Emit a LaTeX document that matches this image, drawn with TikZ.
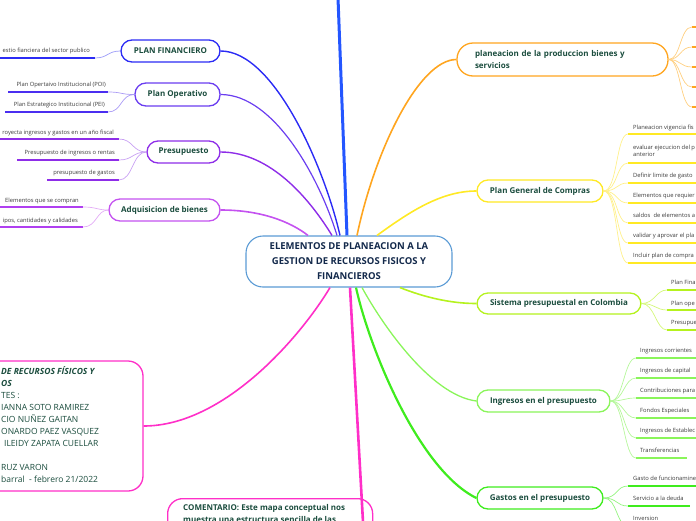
\documentclass[tikz,border=0pt]{standalone}
\usepackage{fontspec}
\setmainfont{Open Sans}
\usepackage{tikz}
\usetikzlibrary{calc}
\definecolor{titletext}{HTML}{1B4D3E}
\definecolor{centertext}{HTML}{13294B}
\definecolor{leaftext}{HTML}{3A3A3A}
\definecolor{centerblue}{HTML}{5B9BD5}
\definecolor{topblue}{HTML}{2456FF}
\definecolor{finblue}{HTML}{2B2BF5}
\definecolor{finlight}{HTML}{9A9AF8}
\definecolor{opviolet}{HTML}{6A3DF0}
\definecolor{opline}{HTML}{4B2EF0}
\definecolor{oplight}{HTML}{A99AF5}
\definecolor{prepurple}{HTML}{8E2DE8}
\definecolor{prelight}{HTML}{C8A0F3}
\definecolor{adqpurple}{HTML}{C452F0}
\definecolor{adqline}{HTML}{B040F0}
\definecolor{adqlight}{HTML}{E3ACF6}
\definecolor{magentab}{HTML}{FF2FC8}
\definecolor{orangeb}{HTML}{FFA51F}
\definecolor{orangelight}{HTML}{FFCF80}
\definecolor{yellowb}{HTML}{FFE924}
\definecolor{yellowlight}{HTML}{FFF08A}
\definecolor{limeb}{HTML}{B5F21E}
\definecolor{limelight}{HTML}{D4F77A}
\definecolor{ingreen}{HTML}{8AF55A}
\definecolor{inlight}{HTML}{B5F79A}
\definecolor{gasgreen}{HTML}{3FEC1E}
\definecolor{gaslight}{HTML}{94F47F}

\begin{document}
\begin{tikzpicture}[x=1pt, y=-1pt,
	topic/.style={draw, fill=white, line width=1.3pt, rounded corners=11pt, inner sep=0pt, text=titletext, font=\bfseries\fontsize{8}{10}\selectfont},
	leaf/.style={inner sep=0pt, text=leaftext, font=\fontsize{5.8}{7}\selectfont},
	branch/.style={line width=1.4pt},
	twig/.style={line width=0.7pt},
	uline/.style={line width=2pt}]
	
	\useasboundingbox (0,0) rectangle (696,520);
	
	% central topic
	\node[topic, draw=centerblue, line width=1.1pt, rounded corners=17pt, minimum width=206pt, minimum height=51pt, text=centertext, align=center, font=\bfseries\fontsize{9.5}{15}\selectfont] (central) at (349,261.5) {ELEMENTOS DE PLANEACION A LA\\GESTION DE RECURSOS FISICOS Y\\FINANCIEROS};
	\coordinate (topend) at (338,-2);
	\coordinate (botend) at (363,522);
	
	% left topics
	\node[topic, draw=finblue, minimum width=99pt, minimum height=22pt] (planfin) at (170.5,51) {PLAN FINANCIERO};
	\node[topic, draw=opviolet, minimum width=85pt, minimum height=23pt] (planop) at (177.5,94.5) {Plan Operativo};
	\node[topic, draw=prepurple, minimum width=73pt, minimum height=22pt] (presup) at (183.5,152) {Presupuesto};
	\node[topic, draw=adqpurple, minimum width=111pt, minimum height=22pt] (adquis) at (164.5,210) {Adquisicion de bienes};
	\node[topic, draw=magentab, rounded corners=15pt, minimum width=223pt, minimum height=130pt] (autores) at (31.5,426) {};
	\node[anchor=north west, align=left, inner sep=0pt, text=titletext, font=\fontsize{8.5}{12}\selectfont] (autorestxt) at (1,366) {{\bfseries\itshape DE RECURSOS FÍSICOS Y}\\{\bfseries\itshape OS}\\TES :\\IANNA SOTO RAMIREZ\\CIO NUÑEZ GAITAN\\ONARDO PAEZ VASQUEZ\\\hspace{3pt}ILEIDY ZAPATA CUELLAR\\\mbox{}\\RUZ VARON\\barral\ \ - febrero 21/2022};
	\node[topic, draw=magentab, rounded corners=15pt, anchor=north west, minimum width=205pt, minimum height=64pt] (comentario) at (167,498) {};
	\node[anchor=north west, align=left, inner sep=0pt, text=titletext, font=\bfseries\fontsize{8}{12.5}\selectfont] (comentariotxt) at (183,504) {COMENTARIO: Este mapa conceptual nos\\muestra una estructura sencilla de las};
	
	% right topics
	\node[topic, draw=orangeb, rounded corners=16pt, minimum width=211pt, minimum height=33pt, text width=175pt, inner xsep=18pt, align=left, font=\bfseries\fontsize{8}{12}\selectfont] (prodbien) at (562.5,59.5) {planeacion de la produccion bienes y\\servicios};
	\node[topic, draw=yellowb, minimum width=126pt, minimum height=22pt] (compras) at (540,191) {Plan General de Compras};
	\node[topic, draw=limeb, minimum width=164pt, minimum height=21pt] (sistema) at (559,303.5) {Sistema presupuestal en Colombia};
	\node[topic, draw=ingreen, minimum width=133pt, minimum height=22pt] (ingresos) at (543.5,401) {Ingresos en el presupuesto};
	\node[topic, draw=gasgreen, minimum width=126pt, minimum height=22pt] (gastos) at (540,498) {Gastos en el presupuesto};
	
	% branches from the central topic
	\draw[branch, topblue, line width=3pt] ($(central.north)+(-2,0)$) -- (topend);
	\draw[branch, finblue] (planfin.east) .. controls +(54,0) and +(-15,-66) .. ($(central.north)+(-9,0)$);
	\draw[branch, opviolet, line width=1.2pt] (planop.east) .. controls +(54,0) and +(-17,-56) .. ($(central.north)+(-12,0)$);
	\draw[branch, prepurple] (presup.east) .. controls +(50,0) and +(-22,-36) .. ($(central.north)+(-17,0)$);
	\draw[branch, adqpurple, line width=1.6pt] (adquis.east) .. controls +(40,0) and +(-18,-14) .. ($(central.north)+(-41,0)$);
	\draw[branch, orangeb, line width=1.6pt] ($(central.north)+(8,0)$) .. controls +(18,-86) and +(-37,0) .. (prodbien.west);
	\draw[branch, yellowb, line width=1.6pt] ($(central.north)+(28,0)$) .. controls +(33,-24) and +(-35,0) .. (compras.west);
	\draw[branch, magentab, line width=1.6pt] (autores.east) .. controls +(80,0) and +(-30,50) .. ($(central.south)+(-19,0)$);
	\draw[branch, magentab, line width=2.6pt] ($(central.south)+(1,0)$) -- (botend);
	\draw[branch, gasgreen, line width=2.2pt] ($(central.south)+(7,0)$) .. controls +(14,63) and +(-57,-28) .. (gastos.west);
	\draw[branch, ingreen, line width=1.3pt] ($(central.south)+(13,0)$) .. controls +(18,33) and +(-47,-6) .. (ingresos.west);
	\draw[branch, limeb, line width=1.6pt] ($(central.south)+(51,0)$) .. controls +(25,10) and +(-25,0) .. (sistema.west);
	
	% PLAN FINANCIERO
	\coordinate (fin1) at (95,58);
	\draw[uline, finblue] (fin1) -- (-2,58);
	\node[leaf, anchor=base east] (fin1t) at (90,52.5) {estio fianciera del sector publico};
	\draw[twig, finlight] (fin1) .. controls +(13,0) and +(-13,0) .. (planfin.west);
	
	% Plan Operativo
	\coordinate (op1) at (108,92);
	\coordinate (op2) at (108,112);
	\draw[uline, opline] (op1) -- (8,92);
	\draw[uline, opline] (op2) -- (5,112);
	\node[leaf, anchor=base east] (op1t) at (106,86) {Plan Opertaivo Institucional (POI)};
	\node[leaf, anchor=base east] (op2t) at (105,106) {Plan Estrategico Institucional (PEI)};
	\draw[twig, oplight] (op1) .. controls +(14,0) and +(-14,0) .. (planop.west);
	\draw[twig, oplight] (op2) .. controls +(14,0) and +(-14,0) .. (planop.west);
	
	% Presupuesto
	\coordinate (pre1) at (119,139);
	\coordinate (pre2) at (119,160);
	\coordinate (pre3) at (119,180);
	\draw[uline, prepurple] (pre1) -- (-2,139);
	\draw[uline, prepurple] (pre2) -- (17,160);
	\draw[uline, prepurple] (pre3) -- (47,180);
	\node[leaf, anchor=base east] (pre1t) at (114,134) {royecta ingresos y gastos en un año fiscal};
	\node[leaf, anchor=base east] (pre2t) at (115,154) {Presupuesto de ingresos o rentas};
	\node[leaf, anchor=base east] (pre3t) at (115,174) {presupuesto de gastos};
	\draw[twig, prelight] (pre1) .. controls +(14,0) and +(-14,0) .. (presup.west);
	\draw[twig, prelight] (pre2) .. controls +(14,0) and +(-14,0) .. (presup.west);
	\draw[twig, prelight] (pre3) .. controls +(14,0) and +(-14,0) .. (presup.west);
	
	% Adquisicion de bienes
	\coordinate (adq1) at (83,207);
	\coordinate (adq2) at (83,227);
	\draw[uline, adqline] (adq1) -- (-2,207);
	\draw[uline, adqline] (adq2) -- (-2,227);
	\node[leaf, anchor=base east] (adq1t) at (79,202) {Elementos que se compran};
	\node[leaf, anchor=base east] (adq2t) at (78,222) {ipos, cantidades y calidades};
	\draw[twig, adqlight] (adq1) .. controls +(14,0) and +(-12,0) .. (adquis.west);
	\draw[twig, adqlight] (adq2) .. controls +(14,0) and +(-12,0) .. (adquis.west);
	
	% planeacion de la produccion
	\coordinate (pb1) at (692,27);
	\coordinate (pb2) at (692,47);
	\coordinate (pb3) at (692,67);
	\coordinate (pb4) at (692,87);
	\coordinate (pb5) at (692,107);
	\draw[uline, orangeb] (pb1) -- (700,27);
	\draw[uline, orangeb] (pb2) -- (700,47);
	\draw[uline, orangeb] (pb3) -- (700,67);
	\draw[uline, orangeb] (pb4) -- (700,87);
	\draw[uline, orangeb] (pb5) -- (700,107);
	\draw[twig, orangelight] (prodbien.east) .. controls +(12,0) and +(-12,0) .. (pb1);
	\draw[twig, orangelight] (prodbien.east) .. controls +(12,0) and +(-12,0) .. (pb2);
	\draw[twig, orangelight] (prodbien.east) .. controls +(12,0) and +(-12,0) .. (pb3);
	\draw[twig, orangelight] (prodbien.east) .. controls +(12,0) and +(-12,0) .. (pb4);
	\draw[twig, orangelight] (prodbien.east) .. controls +(12,0) and +(-12,0) .. (pb5);
	
	% Plan General de Compras
	\coordinate (gc1) at (628,134);
	\coordinate (gc2) at (628,163);
	\coordinate (gc3) at (628,183);
	\coordinate (gc4) at (628,203);
	\coordinate (gc5) at (628,223);
	\coordinate (gc6) at (628,243);
	\coordinate (gc7) at (628,263);
	\draw[uline, yellowb] (gc1) -- (700,134);
	\draw[uline, yellowb] (gc2) -- (700,163);
	\draw[uline, yellowb] (gc3) -- (700,183);
	\draw[uline, yellowb] (gc4) -- (700,203);
	\draw[uline, yellowb] (gc5) -- (700,223);
	\draw[uline, yellowb] (gc6) -- (700,243);
	\draw[uline, yellowb] (gc7) -- (700,263);
	\node[leaf, anchor=base west] (gc1t) at (633,129) {Planeacion vigencia fis};
	\node[leaf, anchor=base west] (gc2t) at (633,149.5) {evaluar ejecucion del p};
	\node[leaf, anchor=base west] (gc2u) at (633,156.5) {anterior};
	\node[leaf, anchor=base west] (gc3t) at (633,177) {Definir limite de gasto};
	\node[leaf, anchor=base west] (gc4t) at (633,197) {Elementos que requier};
	\node[leaf, anchor=base west] (gc5t) at (633,217) {saldos\ \ de elementos a};
	\node[leaf, anchor=base west] (gc6t) at (633,237) {validar y aprovar el pla};
	\node[leaf, anchor=base west] (gc7t) at (633,257) {Incluir plan de compra};
	\draw[twig, yellowlight] (compras.east) .. controls +(14,0) and +(-12,0) .. (gc1);
	\draw[twig, yellowlight] (compras.east) .. controls +(14,0) and +(-12,0) .. (gc2);
	\draw[twig, yellowlight] (compras.east) .. controls +(14,0) and +(-12,0) .. (gc3);
	\draw[twig, yellowlight] (compras.east) .. controls +(14,0) and +(-12,0) .. (gc4);
	\draw[twig, yellowlight] (compras.east) .. controls +(14,0) and +(-12,0) .. (gc5);
	\draw[twig, yellowlight] (compras.east) .. controls +(14,0) and +(-12,0) .. (gc6);
	\draw[twig, yellowlight] (compras.east) .. controls +(14,0) and +(-12,0) .. (gc7);
	
	% Sistema presupuestal
	\coordinate (sp1) at (667,290);
	\coordinate (sp2) at (667,310);
	\coordinate (sp3) at (667,330);
	\draw[uline, limeb] (sp1) -- (700,290);
	\draw[uline, limeb] (sp2) -- (700,310);
	\draw[uline, limeb] (sp3) -- (700,330);
	\node[leaf, anchor=base west] (sp1t) at (671,284) {Plan Fina};
	\node[leaf, anchor=base west] (sp2t) at (671,305) {Plan ope};
	\node[leaf, anchor=base west] (sp3t) at (671,324) {Presupue};
	\draw[twig, limelight] (sistema.east) .. controls +(13,0) and +(-11,0) .. (sp1);
	\draw[twig, limelight] (sistema.east) .. controls +(13,0) and +(-11,0) .. (sp2);
	\draw[twig, limelight] (sistema.east) .. controls +(13,0) and +(-11,0) .. (sp3);
	
	% Ingresos en el presupuesto
	\coordinate (in1) at (636,358);
	\coordinate (in2) at (636,378);
	\coordinate (in3) at (636,398);
	\coordinate (in4) at (636,418);
	\coordinate (in5) at (636,438);
	\coordinate (in6) at (636,458);
	\draw[uline, ingreen] (in1) -- (700,358);
	\draw[uline, ingreen] (in2) -- (700,378);
	\draw[uline, ingreen] (in3) -- (700,398);
	\draw[uline, ingreen] (in4) -- (700,418);
	\draw[uline, ingreen] (in5) -- (700,438);
	\draw[uline, ingreen] (in6) -- (687,458);
	\node[leaf, anchor=base west] (in1t) at (640,352) {Ingresos corrientes};
	\node[leaf, anchor=base west] (in2t) at (640,372) {Ingresos de capital};
	\node[leaf, anchor=base west] (in3t) at (640,392) {Contribuciones para};
	\node[leaf, anchor=base west] (in4t) at (640,412) {Fondos Especiales};
	\node[leaf, anchor=base west] (in5t) at (640,432) {Ingresos de Establec};
	\node[leaf, anchor=base west] (in6t) at (640,452) {Transferencias};
	\draw[twig, inlight] (ingresos.east) .. controls +(13,0) and +(-12,0) .. (in1);
	\draw[twig, inlight] (ingresos.east) .. controls +(13,0) and +(-12,0) .. (in2);
	\draw[twig, inlight] (ingresos.east) .. controls +(13,0) and +(-12,0) .. (in3);
	\draw[twig, inlight] (ingresos.east) .. controls +(13,0) and +(-12,0) .. (in4);
	\draw[twig, inlight] (ingresos.east) .. controls +(13,0) and +(-12,0) .. (in5);
	\draw[twig, inlight] (ingresos.east) .. controls +(13,0) and +(-12,0) .. (in6);
	
	% Gastos en el presupuesto
	\coordinate (ga1) at (628,486);
	\coordinate (ga2) at (628,506);
	\coordinate (ga3) at (628,526);
	\draw[uline, gasgreen] (ga1) -- (700,486);
	\draw[uline, gasgreen] (ga2) -- (690,506);
	\draw[uline, gasgreen] (ga3) -- (700,526);
	\node[leaf, anchor=base west] (ga1t) at (633,480) {Gasto de funcionamine};
	\node[leaf, anchor=base west] (ga2t) at (633,500) {Servicio a la deuda};
	\node[leaf, anchor=base west] (ga3t) at (633,520) {Inversion};
	\draw[twig, gaslight] (gastos.east) .. controls +(14,0) and +(-12,0) .. (ga1);
	\draw[twig, gaslight] (gastos.east) .. controls +(14,0) and +(-12,0) .. (ga2);
	\draw[twig, gaslight] (gastos.east) .. controls +(14,0) and +(-12,0) .. (ga3);
\end{tikzpicture}
\end{document}
